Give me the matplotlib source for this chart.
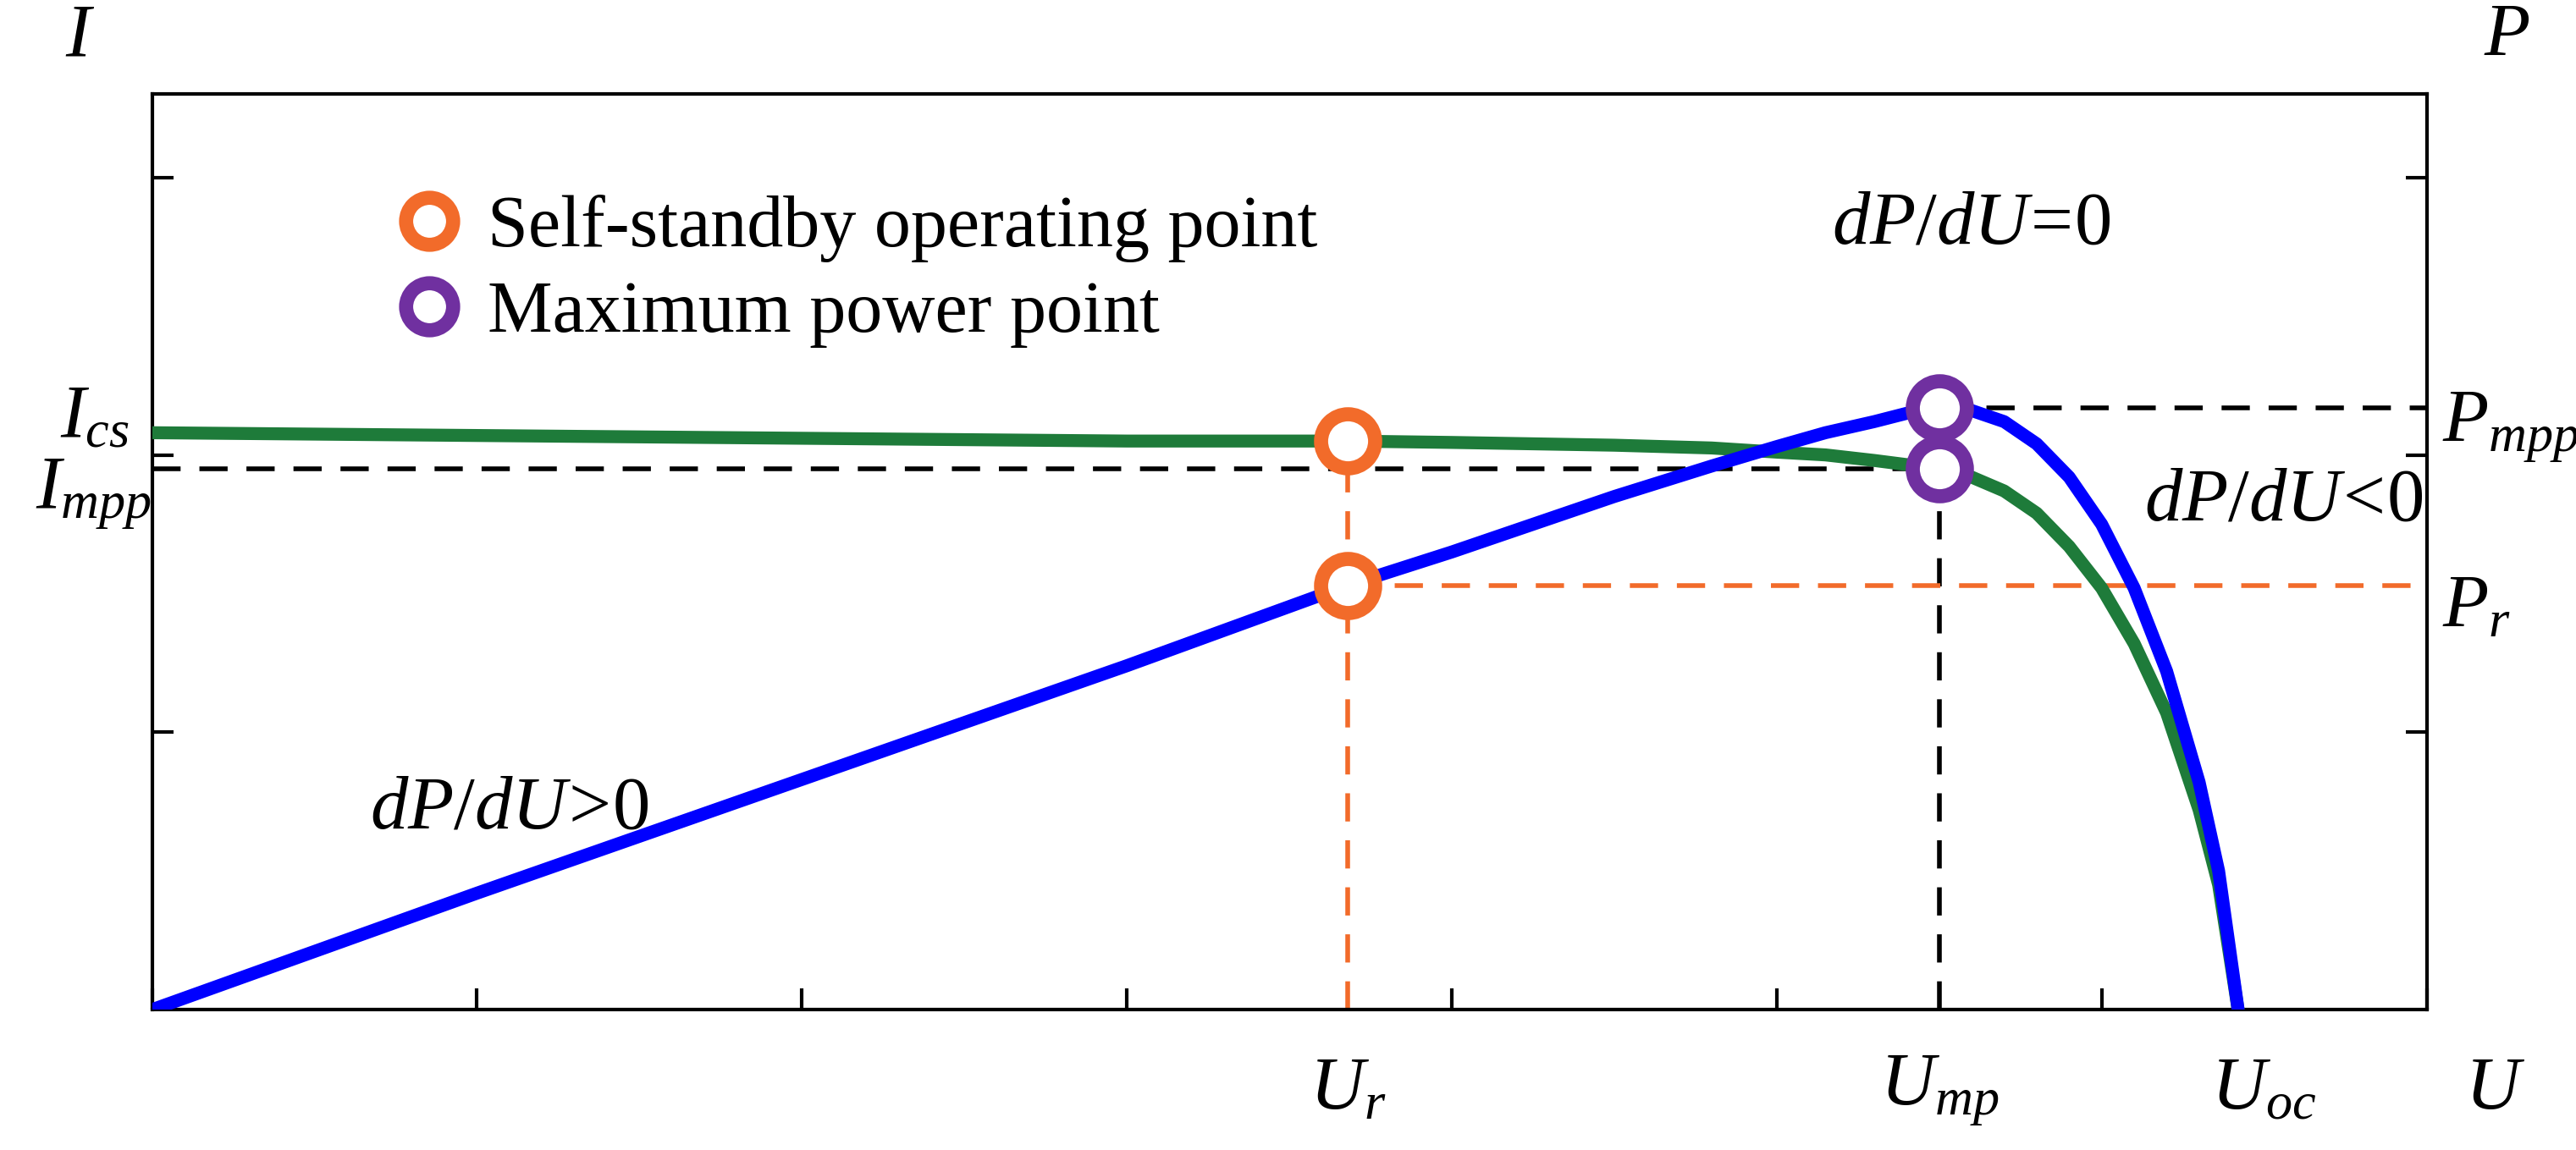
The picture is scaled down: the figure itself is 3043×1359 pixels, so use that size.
import matplotlib.pyplot as plt
from matplotlib.lines import Line2D

plt.rcParams['font.family'] = 'Liberation Serif'
plt.rcParams['mathtext.fontset'] = 'custom'
plt.rcParams['mathtext.rm'] = 'Liberation Serif'
plt.rcParams['mathtext.it'] = 'Liberation Serif:italic'

# I-U curve (green) and P-U curve (blue)
u = [0, 1, 2, 3, 3.68, 4, 4.5, 4.8, 5.0, 5.15, 5.3, 5.4, 5.5, 5.6, 5.7, 5.8, 5.9,
     6.0, 6.1, 6.2, 6.3, 6.36, 6.42]
i_vals = [2.08, 2.07, 2.06, 2.05, 2.05, 2.045, 2.035, 2.025, 2.01, 2.0, 1.98, 1.965, 1.95,
          1.92, 1.87, 1.79, 1.67, 1.52, 1.32, 1.07, 0.72, 0.45, 0]
p_vals = [0, 0.42, 0.83, 1.24, 1.53, 1.65, 1.85, 1.96, 2.03, 2.08, 2.12, 2.15, 2.17,
          2.16, 2.12, 2.04, 1.92, 1.75, 1.52, 1.22, 0.82, 0.5, 0]

u_r, i_r, p_r = 3.68, 2.05, 1.53
u_mp, i_mpp, p_mpp = 5.5, 1.95, 2.17
u_oc = 6.42

orange = '#F26B2A'
purple = '#7030A0'
green = '#1E7B3A'

fig = plt.figure(figsize=(30.43, 13.59), dpi=100)
ax = fig.add_axes([0.059, 0.122, 0.883, 0.796])
ax.set_xlim(0, 7)
ax.set_ylim(0, 3.3)

ax.plot(u, i_vals, color=green, lw=11, solid_capstyle='round', solid_joinstyle='round', zorder=3)
ax.plot(u, p_vals, color='blue', lw=11, solid_capstyle='round', solid_joinstyle='round', zorder=4)

# dashed guide lines
dash = dict(lw=4, dashes=(6, 4), zorder=2)
ax.plot([0, u_mp], [i_mpp, i_mpp], color='k', **dash)
ax.plot([u_mp, u_mp], [0, i_mpp], color='k', **dash)
ax.plot([u_mp, 7], [p_mpp, p_mpp], color='k', **dash)
ax.plot([u_r, 7], [p_r, p_r], color=orange, **dash)
ax.plot([u_r, u_r], [0, i_r], color=orange, **dash)

mk = dict(marker='o', ms=46, mfc='white', mew=12, ls='none', zorder=5)
ax.plot([u_r, u_r], [i_r, p_r], mec=orange, **mk)
ax.plot([u_mp, u_mp], [p_mpp, i_mpp], mec=purple, **mk)

handles = [Line2D([], [], marker='o', ms=40, mfc='white', mew=12, mec=orange, ls='none'),
           Line2D([], [], marker='o', ms=40, mfc='white', mew=12, mec=purple, ls='none')]
ax.legend(handles, ['Self-standby operating point', 'Maximum power point'],
          loc='upper left', bbox_to_anchor=(0.09, 0.93), frameon=False,
          fontsize=62, handletextpad=0.3, labelspacing=0.25, handlelength=1.0,
          borderpad=0)

ax.set_xticks(range(8))
ax.set_yticks([1, 2, 3])
ax.set_xticklabels([])
ax.set_yticklabels([])
ax.tick_params(direction='in', length=18, width=3, right=True)
for s in ax.spines.values():
    s.set_linewidth(3)

fs = 64
ax.text(-0.025, 1.025, '$I$', transform=ax.transAxes, fontsize=fs, ha='right', va='bottom')
ax.text(1.025, 1.025, '$P$', transform=ax.transAxes, fontsize=fs, ha='left', va='bottom')
ax.text(1.03, -0.088, '$U$', transform=ax.transAxes, fontsize=fs, ha='center', va='center')
yt = ax.get_yaxis_transform()
ax.text(-0.01, 2.13, '$I_{cs}$', fontsize=fs, ha='right', va='center', transform=yt)
ax.text(-0.0, 1.86, '$I_{mpp}$', fontsize=fs, ha='right', va='center', transform=yt)
ax.text(1.007, 2.1, '$P_{mpp}$', fontsize=fs, ha='left', va='center', transform=yt)
ax.text(1.007, 1.45, '$P_r$', fontsize=fs, ha='left', va='center', transform=yt)
xt = ax.get_xaxis_transform()
for x, lab in [(u_r, '$U_r$'), (u_mp, '$U_{mp}$'), (u_oc + 0.08, '$U_{oc}$')]:
    ax.text(x, -0.088, lab, fontsize=fs, ha='center', va='center', transform=xt)
ax.text(5.6, 2.83, '$dP/dU\\!=\\!0$', fontsize=fs, ha='center', va='center')
ax.text(6.56, 1.83, '$dP/dU\\!<\\!0$', fontsize=fs, ha='center', va='center')
ax.text(1.1, 0.72, '$dP/dU\\!>\\!0$', fontsize=fs, ha='center', va='center')

fig.savefig('out.png', dpi=100)
